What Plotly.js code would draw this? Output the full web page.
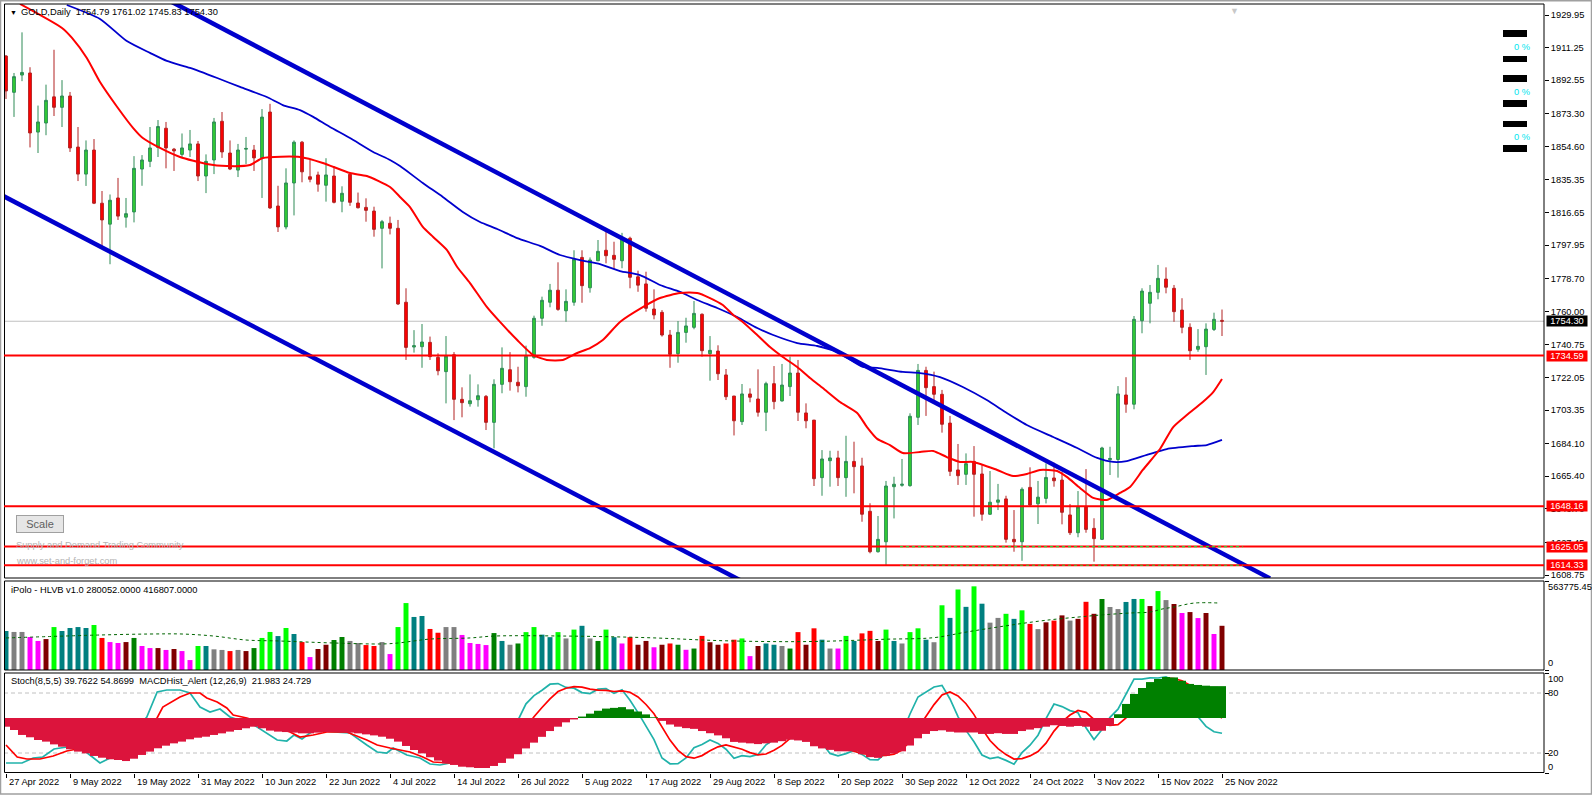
<!DOCTYPE html>
<html><head><meta charset="utf-8">
<script src="https://cdn.plot.ly/plotly-3.0.1.min.js"></script>
<style>html,body{margin:0;padding:0;background:#fff;} #chart{width:1592px;height:796px;}</style>
</head><body><div id="chart"></div>
<script>
// ---------------- DATA ----------------
const dateLabels = ['27 Apr 2022','9 May 2022','19 May 2022','31 May 2022','10 Jun 2022','22 Jun 2022','4 Jul 2022','14 Jul 2022','26 Jul 2022','5 Aug 2022','17 Aug 2022','29 Aug 2022','8 Sep 2022','20 Sep 2022','30 Sep 2022','12 Oct 2022','24 Oct 2022','3 Nov 2022','15 Nov 2022','25 Nov 2022'];
const dateLabelBars = [0,8,16,24,32,40,48,56,64,72,80,88,96,104,112,120,128,136,144,152];

const openP = [1906.4,1885.6,1895.5,1896.7,1862.8,1868.0,1883.0,1877.0,1883.5,1854.2,1838.7,1852.5,1822.0,1810.0,1825.0,1814.0,1817.0,1841.6,1846.0,1854.0,1865.0,1853.0,1850.0,1852.5,1856.0,1837.6,1846.8,1869.0,1850.8,1841.0,1853.0,1852.5,1848.0,1874.3,1820.4,1808.4,1833.6,1857.0,1837.2,1838.2,1832.3,1837.6,1823.1,1838.6,1822.1,1819.6,1817.5,1807.6,1810.5,1807.6,1765.2,1739.5,1739.7,1742.2,1733.6,1725.4,1735.1,1709.5,1707.0,1709.3,1711.2,1696.3,1718.1,1726.5,1719.3,1716.8,1733.6,1756.0,1765.2,1772.1,1760.3,1765.2,1790.9,1773.5,1789.0,1795.0,1792.1,1789.0,1801.9,1779.8,1775.7,1761.3,1759.4,1746.4,1735.7,1747.9,1750.8,1758.3,1735.7,1737.2,1723.5,1711.4,1696.7,1712.6,1709.7,1702.1,1718.5,1708.6,1716.8,1724.6,1701.7,1697.6,1664.6,1674.3,1675.9,1664.6,1673.9,1671.3,1645.3,1622.1,1627.8,1659.4,1660.2,1660.0,1699.2,1726.1,1716.8,1712.4,1695.9,1669.0,1666.5,1673.9,1666.7,1643.6,1650.5,1652.4,1629.2,1627.8,1659.0,1649.6,1652.7,1664.4,1663.2,1643.2,1633.0,1647.7,1635.5,1629.2,1674.9,1675.0,1712.0,1706.7,1754.6,1764.6,1770.9,1778.5,1773.2,1760.7,1750.8,1738.2,1739.7,1749.6,1754.79];
const highP = [1907.0,1896.7,1920.0,1900.0,1878.0,1890.0,1910.0,1892.6,1885.8,1865.7,1858.0,1858.8,1829.0,1827.0,1836.5,1825.0,1849.0,1849.6,1865.7,1869.7,1868.6,1853.7,1862.0,1864.0,1857.7,1850.0,1870.9,1874.3,1858.0,1856.0,1860.0,1855.4,1876.0,1879.0,1832.0,1842.0,1858.0,1857.7,1846.8,1840.1,1847.8,1843.3,1831.7,1839.2,1828.1,1824.8,1820.0,1812.4,1814.3,1812.4,1773.2,1749.2,1752.7,1745.5,1735.9,1745.8,1736.6,1716.4,1723.8,1718.1,1712.0,1721.0,1739.3,1736.6,1728.2,1740.3,1757.5,1768.4,1775.7,1788.1,1772.6,1795.0,1795.0,1790.9,1800.9,1805.5,1799.9,1805.0,1802.8,1783.3,1782.7,1772.6,1760.7,1749.3,1754.4,1756.3,1765.9,1758.8,1745.8,1740.5,1726.9,1711.4,1718.3,1715.8,1726.7,1719.6,1728.6,1729.8,1734.0,1732.1,1707.2,1697.6,1680.4,1680.0,1680.0,1688.6,1685.2,1676.0,1649.9,1642.6,1662.7,1665.1,1675.3,1701.5,1729.8,1728.2,1725.4,1714.9,1700.0,1683.9,1678.5,1682.7,1671.8,1668.4,1661.0,1654.2,1646.0,1659.0,1670.5,1662.7,1672.8,1673.2,1668.0,1649.5,1656.9,1669.5,1641.3,1682.3,1682.3,1717.1,1722.2,1757.3,1773.2,1775.1,1786.6,1785.2,1775.1,1767.5,1753.1,1749.8,1753.1,1759.2,1761.02];
const lowP = [1881.8,1871.5,1892.0,1854.0,1850.8,1861.0,1872.0,1865.7,1851.4,1834.7,1831.9,1821.5,1797.0,1787.0,1812.4,1808.0,1811.0,1832.0,1842.7,1848.5,1842.0,1840.5,1848.0,1848.5,1834.7,1827.8,1838.7,1848.0,1841.0,1837.0,1844.5,1840.5,1825.0,1818.7,1805.5,1807.0,1815.0,1834.0,1834.0,1828.6,1822.9,1821.9,1816.8,1820.5,1819.0,1811.4,1802.8,1784.6,1804.1,1763.6,1732.1,1736.3,1727.6,1732.1,1723.3,1707.2,1697.6,1699.2,1705.3,1705.3,1691.9,1681.4,1713.0,1714.5,1713.5,1711.0,1732.8,1751.7,1762.3,1760.3,1754.0,1763.2,1764.9,1770.7,1788.8,1787.5,1784.2,1784.7,1773.2,1771.2,1759.8,1755.4,1745.5,1727.6,1730.5,1742.0,1749.7,1734.0,1720.2,1720.6,1709.1,1688.8,1694.8,1707.8,1699.6,1691.3,1703.8,1708.2,1711.4,1697.1,1692.9,1659.8,1654.2,1659.4,1659.8,1653.6,1655.6,1639.3,1621.2,1621.6,1614.5,1641.2,1659.4,1659.4,1694.8,1700.0,1708.0,1690.4,1665.5,1660.4,1660.4,1642.2,1639.9,1643.2,1646.0,1627.3,1622.1,1616.9,1648.0,1638.0,1649.8,1659.4,1637.8,1631.7,1630.4,1633.0,1616.4,1628.8,1666.1,1664.6,1701.8,1703.8,1747.4,1753.1,1766.9,1770.3,1754.0,1747.4,1732.1,1736.8,1723.5,1748.7,1745.83];
const closeP = [1886.4,1894.6,1897.0,1862.3,1868.6,1881.0,1877.0,1883.5,1853.7,1838.7,1852.5,1822.0,1812.4,1823.7,1814.6,1816.0,1842.0,1846.8,1853.7,1866.0,1853.7,1852.0,1853.7,1856.0,1837.6,1846.0,1868.6,1851.4,1841.6,1852.5,1853.4,1848.0,1871.4,1819.3,1808.4,1833.6,1857.0,1840.0,1835.7,1832.9,1838.2,1822.5,1827.7,1822.5,1819.4,1817.9,1807.0,1811.4,1807.6,1764.2,1739.3,1740.3,1742.4,1734.0,1725.9,1734.3,1709.5,1707.6,1708.7,1711.6,1696.3,1718.1,1727.3,1719.6,1717.3,1734.2,1756.0,1766.3,1772.1,1761.1,1765.7,1789.9,1774.7,1789.4,1794.4,1791.9,1789.8,1802.5,1779.5,1775.0,1761.7,1757.9,1746.4,1735.3,1747.9,1751.6,1758.8,1737.4,1737.6,1724.2,1711.0,1697.2,1712.6,1710.7,1702.1,1718.5,1708.2,1717.7,1724.6,1702.1,1697.2,1664.0,1675.3,1675.9,1664.6,1673.9,1670.9,1643.6,1622.1,1629.2,1659.8,1660.8,1660.8,1699.8,1726.1,1716.2,1712.4,1695.2,1668.2,1665.7,1672.6,1666.5,1643.6,1650.5,1651.8,1629.2,1627.8,1657.9,1648.9,1653.4,1664.7,1662.8,1644.7,1633.0,1647.7,1634.9,1629.6,1681.6,1675.6,1712.6,1706.7,1755.4,1771.6,1770.9,1778.9,1773.8,1759.8,1750.8,1737.4,1739.9,1749.8,1755.4,1754.30];

// moving averages (bar position, price)
const redMAbar = [1.75,7,8.25,10.1,11.75,13.9,15.9,17.1,19.25,21.75,25.1,27.6,30.5,32.1,36.75,39.6,43,45.1,48,49.25,50.5,52.1,53.4,55.1,56.4,58,60.1,61.75,63.9,65.9,67.6,69.6,71.4,73,74.6,76.75,79.6,81.75,84.25,86.4,88,89.6,90.9,92.1,93.9,95.5,97.1,98.9,100.5,102.1,104.25,106.4,107.6,108.9,110.5,112.1,114.25,115.9,117.6,119.25,120.9,123.9,125.9,127.6,129.25,131.4,132.6,134.25,135.9,137.6,139.25,140.5,142.1,144.25,145.9,147.6,149.6,150.9,152];
const redMA = [1936.3,1922.5,1916.8,1905.3,1891.5,1877.2,1865.1,1859.4,1853.7,1848.5,1844.5,1843.3,1843.9,1847.9,1848.5,1845.1,1839.3,1837.6,1831.3,1825.6,1819.8,1808.4,1802.6,1795.2,1785.4,1776.2,1762.5,1753.9,1743.5,1734.9,1732.1,1732.1,1736.1,1738.9,1743.5,1753.9,1762.4,1767.6,1770.5,1770.5,1767.6,1763.6,1757.9,1753.9,1746.4,1739.5,1733.8,1728.1,1721.8,1716.0,1708.0,1701.7,1693.7,1686.8,1683.3,1678.7,1679.3,1679.9,1676.4,1673.6,1673.6,1669.0,1665.5,1666.7,1669.0,1668.4,1665.0,1658.7,1653.0,1651.8,1655.8,1659.2,1669.0,1681.0,1693.6,1700.5,1708.0,1713.7,1721.2];
const blueMAbar = [7.6,11.75,15.1,18,20.1,23,26.4,29.25,32.6,34.6,36.75,38.4,40.5,43,45.9,48,49.25,52.1,54.6,57.1,59.25,61.4,63.9,66.75,69.25,71.75,74.25,76.75,79.25,81.75,84.25,86.4,88.9,91.4,93.9,95.9,98.9,101.4,103.9,107.1,108.9,112.1,114.25,116.75,119.6,122.6,125.1,127.6,130.9,133.9,136.4,138.4,140.1,142.6,145.1,148.4,150.1,152];
const blueMA = [1935.7,1927.7,1915.0,1908.2,1903.6,1899.6,1893.8,1888.7,1882.9,1878.3,1875.4,1871.5,1865.7,1859.4,1851.4,1846.8,1843.3,1833.6,1825.6,1817.0,1811.2,1807.2,1802.0,1797.5,1792.3,1789.4,1787.1,1783.1,1780.8,1775.1,1771.1,1766.5,1761.9,1756.7,1750.4,1746.4,1741.8,1740.1,1736.7,1728.1,1727.5,1725.2,1724.6,1722.3,1716.6,1709.1,1701.7,1694.8,1687.9,1681.6,1675.9,1673.6,1674.1,1677.6,1681.0,1682.7,1683.3,1686.2];

// channel trend lines (anchor bar, price)
const upperLineBar = [18, 158];
const upperLinePrice = [1944.0, 1606.8];
const lowerLineBar = [-1, 93];
const lowerLinePrice = [1827.7, 1602.8];

const levels = [1734.59, 1648.16, 1625.05, 1614.33];
const lastPrice = 1754.30;
const greenDashLevels = [1625.05, 1614.33];
const greenDashBars = [111.75, 154.6];

const priceTicks = [1929.95,1911.25,1892.55,1873.30,1854.60,1835.35,1816.65,1797.95,1778.70,1760.00,1740.75,1722.05,1703.35,1684.10,1665.40,1646.70,1627.45,1608.75];

// volume (HLVB)
const volume = [247000,241000,241000,209000,184000,196000,272000,247000,266000,272000,266000,285000,203000,177000,171000,177000,203000,152000,139000,139000,127000,133000,120000,63000,152000,152000,131000,127000,120000,127000,120000,139000,203000,241000,215000,266000,228000,177000,82000,133000,160000,190000,209000,184000,171000,158000,152000,177000,101000,272000,424000,336000,342000,260000,236000,272000,272000,222000,171000,165000,158000,234000,
 184000,160000,168000,240000,272000,224000,208000,240000,200000,256000,280000,200000,184000,256000,208000,168000,208000,160000,184000,144000,160000,168000,160000,128000,136000,216000,176000,160000,168000,192000,200000,88000,152000,168000,160000,152000,136000,240000,160000,264000,192000,136000,136000,216000,184000,232000,248000,184000,256000,184000,168000,240000,264000,192000,176000,
 410000,330000,510000,400000,530000,420000,300000,330000,356000,324000,378000,292000,259000,302000,313000,346000,313000,324000,432000,356000,
 449700,399000,386000,431000,450000,450000,405000,500000,443000,418000,361000,367000,329000,361000,228000,280052];
const volColor = "TSSMMBLTTTTLRMMBGMMBMBMMLTSSRSBGLLTLTRMBBGGSSRRSMLLTTRRSSMMMMG" +
                 "TSGLLTTLSL" + "TSGLTMRBBM" + "BRGMGRBBRR" + "LMBTTSGRBR" + "TSMLTRRBLT" + "SLLTSLTLTL" + "TSSLTLRSBR" + "BSBRB" +
                 "GSSTTLBLSBMBMBMB";
const volMAbar = [0,12,18,22,26,30,34,41,47,49,51,53,58,61,70,80,90,100,110,116,120,125,130,135,136.75,140.5,143,144.5,146,148.5,151.75];
const volMA = [203000,222000,228000,228000,215000,190000,184000,171000,165000,171000,184000,196000,203000,215000,215000,205000,185000,180000,195000,205000,240000,280000,315000,340000,348000,361000,367000,386000,399000,424000,424000];

// MACD histogram
const macdHist = [-6.0,-8.3,-11.7,-13.3,-15.2,-16.3,-18.2,-19.8,-21.6,-23.2,-24.4,-26.2,-27.4,-28.5,-29.0,-29.7,-28.1,-25.5,-23.2,-20.9,-19.1,-17.5,-16.3,-14.7,-13.6,-12.9,-11.7,-10.6,-9.4,-8.3,-7.1,-6.0,-7.1,-8.7,-9.4,-9.7,-10.1,-10.6,-10.6,-10.1,-9.7,-9.7,-9.9,-10.1,-10.6,-11.3,-12.0,-12.9,-14.3,-16.3,-19.3,-22.1,-24.4,-27.1,-29.4,-31.3,-32.4,-33.6,-34.0,-34.5,-34.5,-33.1,
 -31,-28,-25,-21,-17,-13,-9,-6,-3,-1,1,3,5,6.5,7,7.5,6,4.5,2.5,0.5,-2,-4.5,-6,-7,-7.5,-9,-10.5,-12,-14,-16.5,-17,-17.5,-18,-17.5,-17,-16,-15,-15.5,-16.5,-19.5,-21,-22,-23,-23,-23,-25,-27,-27.5,-26,-24.5,-23,-19,-14,-11,-9,-8.5,-9.5,-10,-10,-10,-11,-11,-10.5,-11,-11,-9,-8,-7,-6,-5,-5.5,-6,-5.5,-6,-9,-8.8,-5.3,2.6,9.7,16.6,20.7,24.8,26.9,28.3,28.0,25.7,23.5,22.8,22.3,22.0,21.98];

// Stochastic (8,5,5): early part read at sample positions, later part one value per bar from bar 56
const stochKEarlyBar = [0,2,3.4,4.6,6,7.6,9,10,11.75,13,14.25,15.9,17.6,18.9,20.1,21.75,23,24.25,25.5,26.75,28,31,33.9,35.1,36,37,38,38.6,41,43,45.1,46.4,47.6,48.4,50.1,51.75,53,54.25,55.5];
const stochKEarly = [10,10,15,16,24,26,26,21,10,15,23,40,56,81,83,83,80,66,61,64,56,48,33,32,38,34,40,43,41,40,28,21,20,25,18,15,9,8,10];
const stochKLate = [12,11.6,14.2,18.6,15.2,24.6,36.2,45.4,52.8,69.2,77.4,82.8,88.8,89.4,85.6,84.8,80.4,79.4,83.8,84.4,79.6,83.2,72.8,60.4,46.4,33.4,15,9.2,9.4,15,25.2,28.4,33,29.6,23.8,14.8,17.4,16.4,18.4,28.2,33.6,41.4,51.6,52.8,45.2,38.8,30,19.6,17.2,19.4,22.6,18.6,13.4,13.2,20.4,28.4,39.6,59,76,81.4,86,87.6,74,56.4,42.6,31.2,18,14.4,15.8,12.6,8.8,20.4,27.8,37.8,54.4,69,66.4,62.4,60.2,45.2,33.4,43.4,55.6,63.8,78.6,93.8,93.8,95.2,95,96,91.8,83.6,72.4,56.2,46.6,41.2,39.76];
const stochDEarlyBar = [0,1.4,2.6,4.25,5.9,7.6,8.9,10,12,14,16,18.75,19.6,21.75,23,24.25,25.1,26.4,27.6,28.4,30.1,35.5,36.75,38.4,40.1,42.6,45.1,46.4,48,50.5,52.1,53.4,55.5];
const stochDEarly = [28,16,14,14,17,22,24,25,22,20,25,53,66,76,80,80,75,71,65,58,55,41,36,38,41,41,33,28,25,21,16,11,10];
const stochDLate = [10.8,10.3,11.6,13.6,14.3,16.8,21.8,28,34.8,45.6,56.2,65.5,74.2,81.5,84.8,86.3,85.8,83.9,82.8,82.6,81.5,82.1,80.8,76.1,68.5,59.2,45.6,32.9,22.7,16.4,14.8,17.4,22.2,26.2,28,25.9,23.7,20.4,18.2,19,22.8,27.6,34.6,41.5,44.9,46,43.7,37.3,30.2,25,21.8,19.5,18.2,17.4,17.6,18.8,23,32.1,44.7,56.9,68.4,78,81,77.1,69.3,58.4,44.4,32.5,24.4,18.4,13.9,14.4,17.1,21.5,29.8,41.9,51.1,58,62.5,60.6,53.5,48.9,47.6,48.3,55,67,77.1,85,91.3,94.8,94.4,92.3,87.8,80,70.1,60,54.87];
const stochLateStart = 56;

// ---------------- LAYOUT HELPERS ----------------
const W = 1592, H = 796, PL = 4, PR = 1544, PT = 4, PB = 773;
const yp = y => (PB - y) / (PB - PT);
const xp = x => (x - PL) / (PR - PL);
const FONT = 'Liberation Sans, Arial, sans-serif';
const FS = 9.3;

const n = openP.length;
const bars = Array.from({length: n}, (_, i) => i);
const colorMap = {L:'#00FF00', G:'#008000', T:'#008080', S:'#808080', M:'#FF00FF', R:'#FF0000', B:'#800000'};
const volColors = volume.map((_, i) => colorMap[volColor[i]] || '#808080');
const macdColors = macdHist.map(v => v >= 0 ? '#008000' : '#DC143C');
const lateBars = arr => arr.map((_, i) => stochLateStart + i);
const kX = stochKEarlyBar.concat(lateBars(stochKLate)), kY = stochKEarly.concat(stochKLate);
const dX = stochDEarlyBar.concat(lateBars(stochDLate)), dY = stochDEarly.concat(stochDLate);

const traces = [];
traces.push({type:'scatter', mode:'lines', x: blueMAbar, y: blueMA, line:{color:'#0000CD', width:1.8, shape:'spline', smoothing:0.6}, xaxis:'x', yaxis:'y', hoverinfo:'skip'});
traces.push({type:'scatter', mode:'lines', x: redMAbar, y: redMA, line:{color:'#FF0000', width:2, shape:'spline', smoothing:0.6}, xaxis:'x', yaxis:'y', hoverinfo:'skip'});
traces.push({type:'candlestick', x: bars, open: openP, high: highP, low: lowP, close: closeP,
  increasing:{line:{color:'#2E8B57', width:1}, fillcolor:'#32CD32'},
  decreasing:{line:{color:'#B22222', width:1}, fillcolor:'#FF0000'},
  whiskerwidth:0, xaxis:'x', yaxis:'y', hoverinfo:'skip'});
traces.push({type:'scatter', mode:'lines', x: upperLineBar, y: upperLinePrice, line:{color:'#0000CD', width:4.5}, xaxis:'x', yaxis:'y', hoverinfo:'skip'});
traces.push({type:'scatter', mode:'lines', x: lowerLineBar, y: lowerLinePrice, line:{color:'#0000CD', width:4.5}, xaxis:'x', yaxis:'y', hoverinfo:'skip'});
traces.push({type:'bar', x: bars, y: volume, marker:{color: volColors, line:{width:0}}, width:0.62, xaxis:'x', yaxis:'y2', hoverinfo:'skip'});
traces.push({type:'scatter', mode:'lines', x: volMAbar, y: volMA, line:{color:'#006400', width:1, dash:'3px,3px', shape:'spline'}, xaxis:'x', yaxis:'y2', hoverinfo:'skip'});
traces.push({type:'scatter', mode:'lines', x: kX, y: kY, line:{color:'#20B2AA', width:1.7}, xaxis:'x', yaxis:'y3', hoverinfo:'skip'});
traces.push({type:'scatter', mode:'lines', x: dX, y: dY, line:{color:'#FF0000', width:1.7}, xaxis:'x', yaxis:'y3', hoverinfo:'skip'});
traces.push({type:'bar', x: bars, y: macdHist, marker:{color: macdColors, line:{width:0}}, width:1.0, xaxis:'x', yaxis:'y4', hoverinfo:'skip'});

const shapes = [];
const black = '#000000';
shapes.push({type:'rect', xref:'paper', yref:'paper', x0: xp(0.5), x1: xp(1591.5), y0: yp(794), y1: yp(0.8), line:{color:'#A0A0A0', width:1.5}, fillcolor:'rgba(0,0,0,0)', layer:'above'});
[[4,578],[581,670],[673,772.5]].forEach(([t,b]) => {
  shapes.push({type:'rect', xref:'paper', yref:'paper', x0: xp(4.5), x1: xp(1544), y0: yp(b), y1: yp(t), line:{color:black, width:1}, layer:'above'});
});
levels.forEach(v => shapes.push({type:'line', xref:'paper', yref:'y', x0:0, x1:1, y0:v, y1:v, line:{color:'#FF0000', width:2}, layer:'above'}));
greenDashLevels.forEach(v => shapes.push({type:'line', xref:'x', yref:'y', x0:greenDashBars[0], x1:greenDashBars[1], y0:v, y1:v, line:{color:'#32CD32', width:1.2, dash:'3px,3px'}, layer:'above'}));
shapes.push({type:'line', xref:'paper', yref:'y', x0:0, x1:1, y0:lastPrice, y1:lastPrice, line:{color:'#C0C0C0', width:1}, layer:'below'});
[80,20].forEach(v => shapes.push({type:'line', xref:'paper', yref:'y3', x0:0, x1:1, y0:v, y1:v, line:{color:'#C0C0C0', width:1, dash:'4px,3px'}, layer:'below'}));
[[30,37],[56,62],[75,82],[100,107],[121,127],[145,152]].forEach(([a,b]) => {
  shapes.push({type:'rect', xref:'paper', yref:'paper', x0: xp(1503), x1: xp(1527), y0: yp(b), y1: yp(a), fillcolor:'#000000', line:{width:0}, layer:'above'});
});

const annotations = [];
const ann = (o) => annotations.push(Object.assign({showarrow:false, font:{family:FONT, size:FS, color:'#000'}}, o));
ann({xref:'paper', yref:'paper', x: xp(19), y: yp(12), xanchor:'left', yanchor:'middle', text:'GOLD,Daily  1754.79 1761.02 1745.83 1754.30'});
ann({xref:'paper', yref:'paper', x: xp(8), y: yp(12), xanchor:'left', yanchor:'middle', text:'▼', font:{family:FONT, size:7, color:'#000'}});
ann({xref:'paper', yref:'paper', x: xp(1234), y: yp(4), xanchor:'center', yanchor:'top', text:'▼', font:{family:FONT, size:9, color:'#C8C8C8'}});
ann({xref:'paper', yref:'paper', x: xp(9), y: yp(590), xanchor:'left', yanchor:'middle', text:'iPolo - HLVB v1.0 280052.0000 416807.0000'});
ann({xref:'paper', yref:'paper', x: xp(9), y: yp(681), xanchor:'left', yanchor:'middle', text:'Stoch(8,5,5) 39.7622 54.8699  MACDHist_Alert (12,26,9)  21.983 24.729'});
ann({xref:'paper', yref:'paper', x: xp(14), y: yp(545), xanchor:'left', yanchor:'middle', text:'Supply and Demand Trading Community', font:{family:FONT, size:FS, color:'#B4B4B4'}});
ann({xref:'paper', yref:'paper', x: xp(14), y: yp(561), xanchor:'left', yanchor:'middle', text:'www.set-and-forget.com', font:{family:FONT, size:FS, color:'#B4B4B4'}});
ann({xref:'paper', yref:'paper', x: xp(16), y: yp(524), xanchor:'left', yanchor:'middle', text:'Scale', font:{family:FONT, size:11, color:'#606060'}, bgcolor:'#E6E6E6', bordercolor:'#A0A0A0', borderwidth:1, width:44, height:14, borderpad:1});
[47,92,137].forEach(y => ann({xref:'paper', yref:'paper', x: xp(1522), y: yp(y), xanchor:'center', yanchor:'middle', text:'0 %', font:{family:FONT, size:FS, color:'#00E5EE'}}));
levels.forEach(v => ann({xref:'paper', yref:'y', x:1, xshift:2, y:v, xanchor:'left', yanchor:'middle', text: v.toFixed(2), bgcolor:'#FF0000', font:{family:FONT, size:FS, color:'#FFFFFF'}, width:40, height:10, borderpad:0}));
ann({xref:'paper', yref:'y', x:1, xshift:2, y:lastPrice, xanchor:'left', yanchor:'middle', text: lastPrice.toFixed(2), bgcolor:'#000000', font:{family:FONT, size:FS, color:'#FFFFFF'}, width:40, height:10, borderpad:0});
ann({xref:'paper', yref:'paper', x:1, xshift:2, y: yp(587), xanchor:'left', yanchor:'middle', text:'563775.45'});
ann({xref:'paper', yref:'paper', x:1, xshift:2, y: yp(663), xanchor:'left', yanchor:'middle', text:'0'});
[[100,679],[80,693],[20,753],[0,767]].forEach(([t,y]) => ann({xref:'paper', yref:'paper', x:1, xshift:2, y: yp(y), xanchor:'left', yanchor:'middle', text:String(t)}));
dateLabels.forEach((t, i) => ann({xref:'x', yref:'paper', x: dateLabelBars[i], y: yp(782), xanchor:'left', yanchor:'middle', xshift:1, text:t}));

const layout = {
  width: W, height: H,
  margin: {l: PL, r: W - PR, t: PT, b: H - PB},
  paper_bgcolor:'#FFFFFF', plot_bgcolor:'#FFFFFF',
  showlegend:false, barmode:'overlay', boxgap:0.5,
  font:{family:FONT, size:FS, color:'#000'},
  xaxis:{range:[-0.25, 192.25], anchor:'y3', showgrid:false, zeroline:false, showline:false,
    tickvals: dateLabelBars, ticktext: dateLabelBars.map(()=>''), ticks:'outside', ticklen:4, tickcolor:'#000', tickwidth:1,
    rangeslider:{visible:false}, fixedrange:true},
  yaxis:{domain:[yp(578), 1], range:[1607.03, 1936.26], side:'right', showgrid:false, zeroline:false, showline:false,
    tickvals: priceTicks, ticktext: priceTicks.map(v=>v.toFixed(2)), ticks:'outside', ticklen:4, tickcolor:'#000',
    tickfont:{family:FONT, size:FS, color:'#000'}, anchor:'x', fixedrange:true},
  yaxis2:{domain:[yp(670), yp(581)], range:[0, 563775.45], side:'right', showgrid:false, zeroline:false, showline:false,
    tickvals:[0, 563775.45], ticktext:['',''], ticks:'outside', ticklen:4, tickcolor:'#000', anchor:'x', fixedrange:true},
  yaxis3:{domain:[0, yp(673)], range:[0, 100], side:'right', showgrid:false, zeroline:false, showline:false,
    tickvals:[0,20,80,100], ticktext:['','','',''], ticks:'outside', ticklen:4, tickcolor:'#000', anchor:'x', fixedrange:true},
  yaxis4:{overlaying:'y3', range:[-37.95, 31.05], side:'right', showgrid:false, zeroline:false, showline:false,
    showticklabels:false, ticks:'', anchor:'x', fixedrange:true},
  shapes, annotations
};

Plotly.newPlot('chart', traces, layout, {displayModeBar:false, staticPlot:true});
</script>
</body></html>
